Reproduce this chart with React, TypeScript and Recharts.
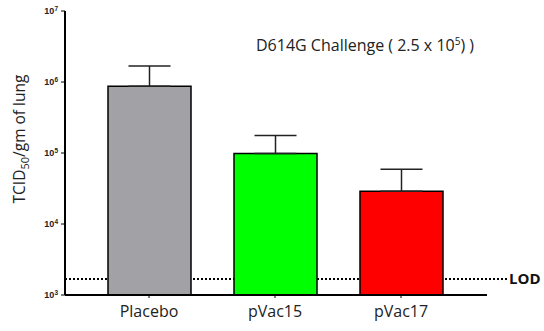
import React from 'react';
import { BarChart, Bar, XAxis, YAxis, ErrorBar, ReferenceLine, Cell } from 'recharts';

const groups = ['Placebo', 'pVac15', 'pVac17'];
const titers = [870000, 98000, 29000];
const upperErrors = [810000, 79000, 30000];
const barColors = ['#a2a1a6', '#00ff00', '#ff0000'];
const yTicks = [1000, 10000, 100000, 1000000, 10000000];
const lod = 1680;

const data = groups.map((name, i) => ({ name, value: titers[i], err: [0, upperErrors[i]] }));

const LogTick = (props: any) => {
  const { x, y, payload } = props;
  const exp = Math.round(Math.log10(payload.value));
  return (
    <text x={x - 1} y={y} dy={3} textAnchor="end" fontSize={9} fontWeight="bold" fill="#222" fontFamily="Liberation Sans, Arial, sans-serif">
      10<tspan dy={-3.5} fontSize={6.5}>{exp}</tspan>
    </text>
  );
};

const GroupTick = (props: any) => {
  const { x, y, payload } = props;
  return (
    <text x={x} y={y} dy={17} textAnchor="middle" fontSize={16} fill="#222" fontFamily="Open Sans, sans-serif">
      {payload.value}
    </text>
  );
};

const LodLine = (props: any) => {
  const { x1, y1, x2, y2 } = props;
  return (
    <g>
      <line x1={x1} y1={y1} x2={x2 + 21} y2={y2} stroke="#000" strokeWidth={2} strokeDasharray="2 2" />
      <text x={x2 + 22} y={y1} dy={5} fontSize={15} fontWeight="bold" fill="#111" fontFamily="Open Sans, sans-serif">LOD</text>
    </g>
  );
};

export default function App() {
  return (
    <div style={{ position: 'absolute', left: 0, top: 0, background: '#fff' }}>
      <BarChart width={544} height={331} data={data} margin={{ top: 11, right: 57, bottom: 0, left: 0 }}>
        <text x={256} y={51} fontSize={16} fill="#222" fontFamily="Open Sans, sans-serif">
          D614G Challenge ( 2.5 x 10<tspan dy={-6} fontSize={10}>5</tspan><tspan dy={6}>) )</tspan>
        </text>
        <text transform="translate(25,139) rotate(-90)" textAnchor="middle" fontSize={15.5} fill="#222" fontFamily="Open Sans, sans-serif">
          TCID<tspan dy={4} fontSize={11}>50</tspan><tspan dy={-4}>/gm of lung</tspan>
        </text>
        <XAxis
          dataKey="name"
          height={36}
          padding={{ left: 21, right: 23 }}
          axisLine={{ stroke: '#000', strokeWidth: 2 }}
          tickLine={{ stroke: '#000' }}
          tickSize={3}
          tick={<GroupTick />}
        />
        <YAxis
          width={65}
          scale="log"
          domain={[1000, 10000000]}
          ticks={yTicks}
          allowDataOverflow
          axisLine={{ stroke: '#000', strokeWidth: 2 }}
          tickLine={{ stroke: '#000' }}
          tickSize={4}
          tick={<LogTick />}
        />
        <ReferenceLine y={lod} shape={<LodLine />} zIndex={100} />
        <Bar dataKey="value" barSize={83} stroke="#000" strokeWidth={1.5} isAnimationActive={false}>
          {data.map((d, i) => (
            <Cell key={d.name} fill={barColors[i]} />
          ))}
          <ErrorBar dataKey="err" direction="y" width={21} stroke="#222" strokeWidth={1.5} isAnimationActive={false} />
        </Bar>
      </BarChart>
    </div>
  );
}
